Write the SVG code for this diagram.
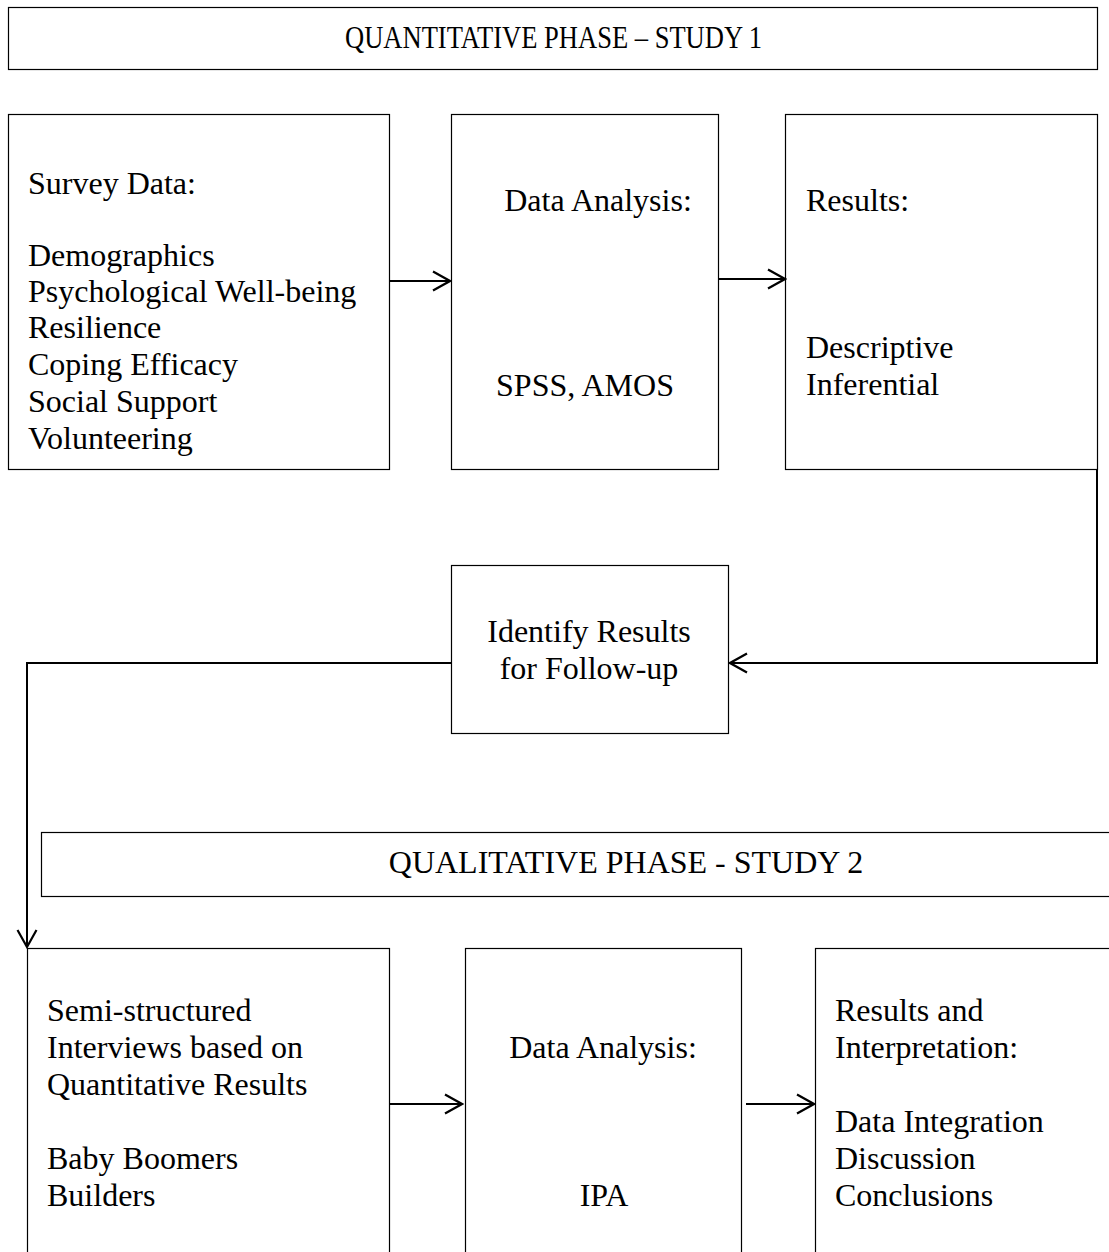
<svg xmlns="http://www.w3.org/2000/svg" width="1109" height="1252" viewBox="0 0 1109 1252">
<style>
.box{fill:#fff;stroke:#000;stroke-width:1.2}
.t{font-family:"Liberation Serif","Times New Roman",serif;font-size:32px;fill:#000}
.m{text-anchor:middle}
.c{fill:none;stroke:#000;stroke-width:2}
</style>
<defs>
<marker id="ah" viewBox="0 0 22 22" refX="20" refY="11" markerWidth="22" markerHeight="22" markerUnits="userSpaceOnUse" orient="auto">
<path d="M3,1.5 L20,11 L3,20.5" fill="none" stroke="#000" stroke-width="2.2"/>
</marker>
</defs>
<rect width="1109" height="1252" fill="#fff"/>
<g id="phase1">
<rect class="box" x="8.5" y="7.5" width="1089" height="62"/>
<text class="t" x="345" y="48" textLength="417" lengthAdjust="spacingAndGlyphs">QUANTITATIVE PHASE – STUDY 1</text>
</g>
<g id="survey">
<rect class="box" x="8.5" y="114.5" width="381" height="355"/>
<text class="t" x="28" y="194">Survey Data:</text>
<text class="t" x="28" y="266">Demographics</text>
<text class="t" x="28" y="302">Psychological Well-being</text>
<text class="t" x="28" y="338">Resilience</text>
<text class="t" x="28" y="375">Coping Efficacy</text>
<text class="t" x="28" y="412">Social Support</text>
<text class="t" x="28" y="449">Volunteering</text>
</g>
<g id="analysis1">
<rect class="box" x="451.5" y="114.5" width="267" height="355"/>
<text class="t m" x="598" y="211">Data Analysis:</text>
<text class="t m" x="585" y="396">SPSS, AMOS</text>
</g>
<g id="results1">
<rect class="box" x="785.5" y="114.5" width="312" height="355"/>
<text class="t" x="806" y="211">Results:</text>
<text class="t" x="806" y="358">Descriptive</text>
<text class="t" x="806" y="395">Inferential</text>
</g>
<g id="identify">
<rect class="box" x="451.5" y="565.5" width="277" height="168"/>
<text class="t m" x="589" y="642">Identify Results</text>
<text class="t m" x="589" y="679">for Follow-up</text>
</g>
<g id="phase2">
<rect class="box" x="41.5" y="832.5" width="1080" height="64"/>
<text class="t m" x="626" y="873">QUALITATIVE PHASE - STUDY 2</text>
</g>
<g id="interviews">
<rect class="box" x="27.5" y="948.5" width="362" height="320"/>
<text class="t" x="47" y="1021">Semi-structured</text>
<text class="t" x="47" y="1058">Interviews based on</text>
<text class="t" x="47" y="1095">Quantitative Results</text>
<text class="t" x="47" y="1169">Baby Boomers</text>
<text class="t" x="47" y="1206">Builders</text>
</g>
<g id="analysis2">
<rect class="box" x="465.5" y="948.5" width="276" height="320"/>
<text class="t m" x="603" y="1058">Data Analysis:</text>
<text class="t m" x="604" y="1206">IPA</text>
</g>
<g id="results2">
<rect class="box" x="815.5" y="948.5" width="320" height="320"/>
<text class="t" x="835" y="1021">Results and</text>
<text class="t" x="835" y="1058">Interpretation:</text>
<text class="t" x="835" y="1132">Data Integration</text>
<text class="t" x="835" y="1169">Discussion</text>
<text class="t" x="835" y="1206">Conclusions</text>
</g>
<g id="connectors">
<path class="c" d="M390,281 H450" marker-end="url(#ah)"/>
<path class="c" d="M719,279 H785" marker-end="url(#ah)"/>
<path class="c" d="M1097,470 V663 H730" marker-end="url(#ah)"/>
<path class="c" d="M451,663 H27 V947" marker-end="url(#ah)"/>
<path class="c" d="M390,1104 H462" marker-end="url(#ah)"/>
<path class="c" d="M746,1104 H814" marker-end="url(#ah)"/>
</g>
</svg>
